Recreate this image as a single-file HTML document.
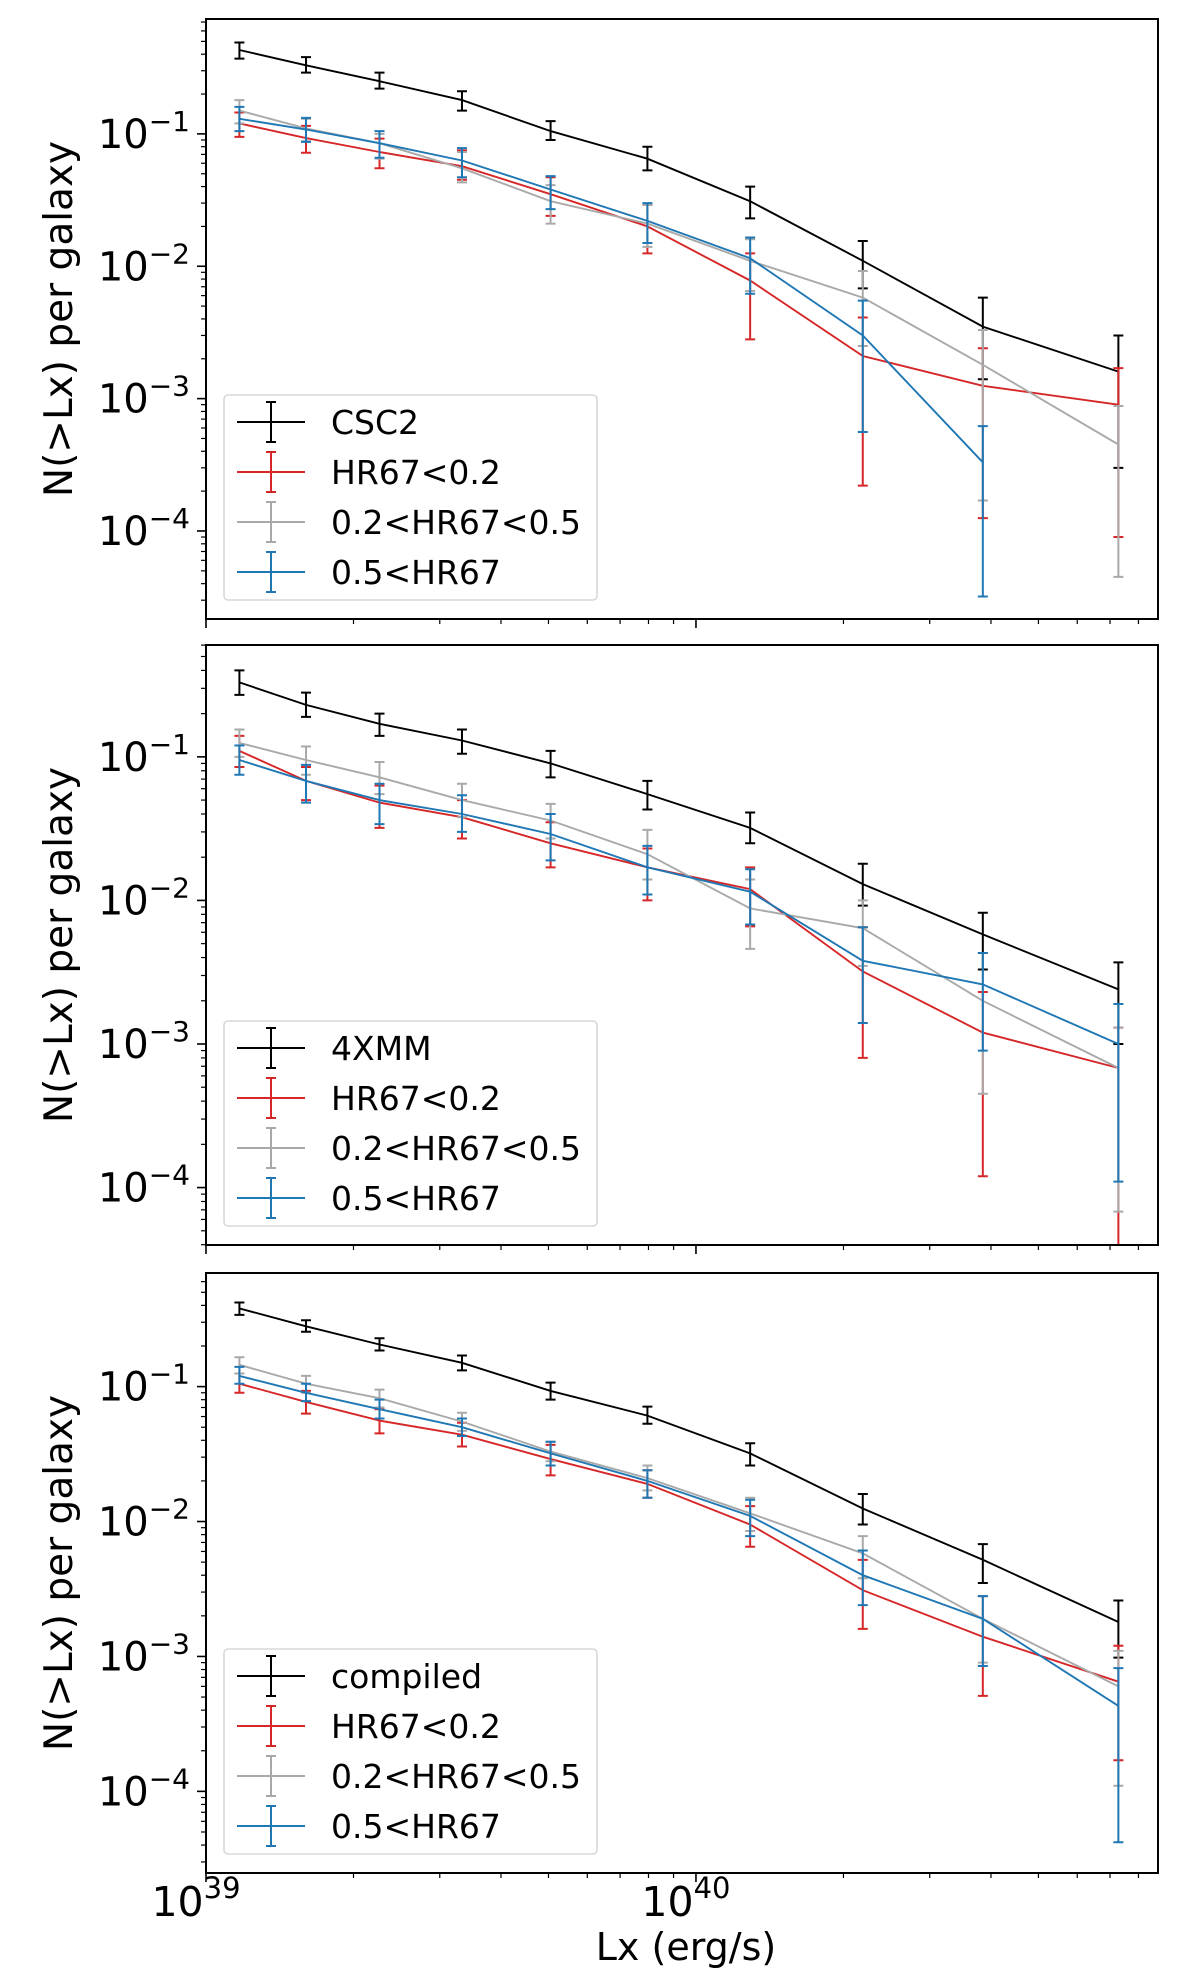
<!DOCTYPE html>
<html><head><meta charset="utf-8"><style>
body{margin:0;background:#fff;}
svg{display:block;font-family:"DejaVu Sans","Liberation Sans",sans-serif;}
</style></head><body>
<svg id="fig" width="1200" height="1986" viewBox="0 0 1200 1986" xmlns="http://www.w3.org/2000/svg"></svg>
<script>
const xCats=[1.17e39,1.6e39,2.26e39,3.33e39,5.05e39,7.96e39,1.29e40,2.19e40,3.85e40,7.28e40];
// panel 1: CSC2
const p1Black=[0.43,0.33,0.25,0.18,0.105,0.065,0.031,0.011,0.0035,0.0016];
const p1BlackLo=[0.37,0.29,0.22,0.15,0.09,0.053,0.023,0.0068,0.0014,0.0003];
const p1BlackHi=[0.49,0.38,0.29,0.21,0.125,0.08,0.04,0.0155,0.0058,0.003];
const p1Red=[0.12,0.093,0.073,0.057,0.035,0.020,0.0078,0.0021,0.00125,0.0009];
const p1RedLo=[0.095,0.072,0.055,0.045,0.024,0.0125,0.0028,0.00022,0.000125,0.00009];
const p1RedHi=[0.145,0.115,0.092,0.075,0.047,0.029,0.0125,0.0041,0.0024,0.0017];
const p1Gray=[0.15,0.11,0.085,0.055,0.031,0.021,0.011,0.0058,0.0018,0.00045];
const p1GrayLo=[0.12,0.088,0.065,0.043,0.021,0.014,0.0065,0.0025,0.00017,0.000045];
const p1GrayHi=[0.18,0.13,0.1,0.073,0.041,0.029,0.016,0.0092,0.0033,0.00088];
const p1Blue=[0.13,0.108,0.085,0.063,0.038,0.022,0.0115,0.003,0.00033,null];
const p1BlueLo=[0.105,0.087,0.066,0.047,0.027,0.015,0.0062,0.00056,0.000032,null];
const p1BlueHi=[0.16,0.132,0.105,0.078,0.048,0.03,0.0165,0.0055,0.00062,null];
// panel 2: 4XMM
const p2Black=[0.33,0.23,0.17,0.13,0.09,0.055,0.032,0.013,0.0058,0.0024];
const p2BlackLo=[0.27,0.19,0.14,0.105,0.072,0.043,0.025,0.0092,0.0033,0.001];
const p2BlackHi=[0.4,0.28,0.2,0.155,0.11,0.068,0.041,0.018,0.0082,0.0037];
const p2Red=[0.11,0.068,0.048,0.038,0.025,0.017,0.012,0.0032,0.0012,0.00068];
const p2RedLo=[0.085,0.05,0.032,0.027,0.017,0.01,0.0066,0.0008,0.00012,0.000005];
const p2RedHi=[0.14,0.085,0.063,0.05,0.035,0.023,0.017,0.0065,0.0023,0.0013];
const p2Gray=[0.125,0.095,0.072,0.05,0.036,0.021,0.0088,0.0064,0.002,0.00068];
const p2GrayLo=[0.1,0.075,0.055,0.038,0.027,0.014,0.0046,0.0035,0.00045,0.000068];
const p2GrayHi=[0.155,0.118,0.092,0.065,0.047,0.031,0.014,0.01,0.0043,0.0013];
const p2Blue=[0.095,0.068,0.05,0.04,0.029,0.017,0.0115,0.0038,0.0026,0.001];
const p2BlueLo=[0.075,0.048,0.034,0.03,0.019,0.011,0.0068,0.0014,0.0009,0.00011];
const p2BlueHi=[0.12,0.088,0.065,0.054,0.04,0.024,0.0165,0.0065,0.0043,0.0019];
// panel 3: compiled
const p3Black=[0.38,0.28,0.205,0.15,0.093,0.061,0.032,0.0125,0.0052,0.0018];
const p3BlackLo=[0.34,0.255,0.185,0.132,0.08,0.053,0.026,0.0095,0.0035,0.00098];
const p3BlackHi=[0.42,0.31,0.228,0.17,0.107,0.071,0.038,0.016,0.0068,0.0026];
const p3Red=[0.105,0.077,0.056,0.044,0.029,0.019,0.0095,0.0031,0.0014,0.00065];
const p3RedLo=[0.09,0.063,0.045,0.036,0.022,0.015,0.0065,0.0016,0.00051,0.00017];
const p3RedHi=[0.125,0.093,0.068,0.054,0.037,0.024,0.013,0.0052,0.0028,0.0012];
const p3Gray=[0.145,0.105,0.082,0.055,0.033,0.021,0.0115,0.0058,0.0019,0.0006];
const p3GrayLo=[0.125,0.09,0.07,0.047,0.028,0.017,0.0085,0.0038,0.0009,0.00011];
const p3GrayHi=[0.165,0.12,0.095,0.064,0.039,0.026,0.015,0.0078,0.0028,0.0011];
const p3Blue=[0.12,0.09,0.068,0.05,0.032,0.02,0.011,0.004,0.0019,0.00043];
const p3BlueLo=[0.105,0.078,0.058,0.043,0.026,0.015,0.0078,0.0024,0.00085,0.000042];
const p3BlueHi=[0.14,0.105,0.08,0.058,0.039,0.024,0.0145,0.0061,0.0028,0.00082];
const yTickExps=[-1,-2,-3,-4];
const xTickExps=[39,40];
const legendLabels=[["CSC2","HR67<0.2","0.2<HR67<0.5","0.5<HR67"],["4XMM","HR67<0.2","0.2<HR67<0.5","0.5<HR67"],["compiled","HR67<0.2","0.2<HR67<0.5","0.5<HR67"]];

const NS="http://www.w3.org/2000/svg";
const svg=document.getElementById('fig');
function mk(tag,attrs,parent){const e=document.createElementNS(NS,tag);for(const k in attrs)e.setAttribute(k,attrs[k]);(parent||svg).appendChild(e);return e;}
const L=206,R=1158,XMIN=39,XMAX=40.943;
function xs(v){return L+(Math.log10(v)-XMIN)/(XMAX-XMIN)*(R-L);}
const colors=["#000000","#d62728","#a9a9a9","#1f77b4"];
const seriesNames=["total","hr-soft","hr-mid","hr-hard"];
const panels=[
 {top:19,bot:619,ymax:-0.132,ymin:-4.665,s:[[p1Black,p1BlackLo,p1BlackHi],[p1Red,p1RedLo,p1RedHi],[p1Gray,p1GrayLo,p1GrayHi],[p1Blue,p1BlueLo,p1BlueHi]]},
 {top:645,bot:1245,ymax:-0.221,ymin:-4.40,s:[[p2Black,p2BlackLo,p2BlackHi],[p2Red,p2RedLo,p2RedHi],[p2Gray,p2GrayLo,p2GrayHi],[p2Blue,p2BlueLo,p2BlueHi]]},
 {top:1273,bot:1873,ymax:-0.158,ymin:-4.605,s:[[p3Black,p3BlackLo,p3BlackHi],[p3Red,p3RedLo,p3RedHi],[p3Gray,p3GrayLo,p3GrayHi],[p3Blue,p3BlueLo,p3BlueHi]]}
];
panels.forEach((p,pi)=>{
 const g=mk('g',{});
 
 
 const ys=v=>p.top+(p.ymax-Math.log10(Math.max(v,1e-9)))/(p.ymax-p.ymin)*(p.bot-p.top);
 const cid='clip'+pi;
 const cp=mk('clipPath',{id:cid},g);mk('rect',{x:L,y:p.top,width:R-L,height:p.bot-p.top},cp);
 for(let e=-5;e<=0;e++){for(let m=1;m<10;m++){const v=m*Math.pow(10,e);const lv=Math.log10(v);if(lv>p.ymax||lv<p.ymin)continue;const y=ys(v);
  const t=mk('line',{x1:L,x2:L-(m===1?9:5),y1:y,y2:y,stroke:'#000','stroke-width':m===1?1.6:1.2},g);
  }}
 yTickExps.forEach(e=>{const y=ys(Math.pow(10,e));
  const t=mk('text',{x:L-16,y:y+14,'text-anchor':'end','font-size':40},g);
  
  t.innerHTML='10<tspan dy="-17" font-size="28">\u2212'+(-e)+'</tspan>';});
 for(let e=39;e<=40;e++){for(let m=1;m<10;m++){const v=m*Math.pow(10,e);const lv=Math.log10(v);if(lv<XMIN-1e-9||lv>XMAX)continue;const x=xs(v);
  const t=mk('line',{x1:x,x2:x,y1:p.bot,y2:p.bot+(m===1?9:5),stroke:'#000','stroke-width':m===1?1.6:1.2},g);
  }}
 const sg=mk('g',{'clip-path':'url(#'+cid+')'},g);
 p.s.forEach((ser,si)=>{
  const [val,lo,hi]=ser;const c=colors[si];
  const sgr=mk('g',{},sg);
  
  
  let d='';val.forEach((v,i)=>{if(v==null)return;d+=(d?'L':'M')+xs(xCats[i]).toFixed(1)+','+ys(v).toFixed(1);});
  const ln=mk('path',{d:d,fill:'none',stroke:c,'stroke-width':1.9},sgr);
  
  val.forEach((v,i)=>{if(v==null)return;const x=xs(xCats[i]);const y1=ys(lo[i]),y2=ys(hi[i]);
   const eb=mk('path',{d:`M${x},${y1}L${x},${y2}M${x-5},${y1}L${x+5},${y1}M${x-5},${y2}L${x+5},${y2}`,stroke:c,'stroke-width':2,fill:'none'},sgr);
   });
 });
 const fr=mk('rect',{x:L,y:p.top,width:R-L,height:p.bot-p.top,fill:'none',stroke:'#000','stroke-width':2},g);
 
 const lx=224,lh=205,ly=p.bot-19-lh;
 const lg=mk('g',{},g);
 
 mk('rect',{x:lx,y:ly,width:373,height:lh,rx:4,fill:'#fff','fill-opacity':0.85,stroke:'#d0d0d0','stroke-width':1.3},lg);
 legendLabels[pi].forEach((lab,k)=>{const cy=ly+27+k*50;const c=colors[k];
  const e=mk('g',{},lg);
  
  mk('path',{d:`M237,${cy}L305,${cy}M271,${cy-20}L271,${cy+20}M266,${cy-20}L276,${cy-20}M266,${cy+20}L276,${cy+20}`,stroke:c,'stroke-width':2,fill:'none'},e);
  const t=mk('text',{x:331,y:cy+12,'font-size':33},e);t.textContent=lab;});
 const yt=mk('text',{x:0,y:0,'font-size':39,'text-anchor':'middle',transform:`translate(72,${(p.top+p.bot)/2}) rotate(-90)`},g);
 
 yt.textContent='N(>Lx) per galaxy';
});
xTickExps.forEach(e=>{const x=xs(Math.pow(10,e));
 const t=mk('text',{x:x-10,y:1916,'text-anchor':'middle','font-size':41});
 
 t.innerHTML='10<tspan dy="-18" font-size="29">'+e+'</tspan>';});
const xt=mk('text',{x:686,y:1960,'text-anchor':'middle','font-size':38});

xt.textContent='Lx (erg/s)';
</script>
</body></html>
